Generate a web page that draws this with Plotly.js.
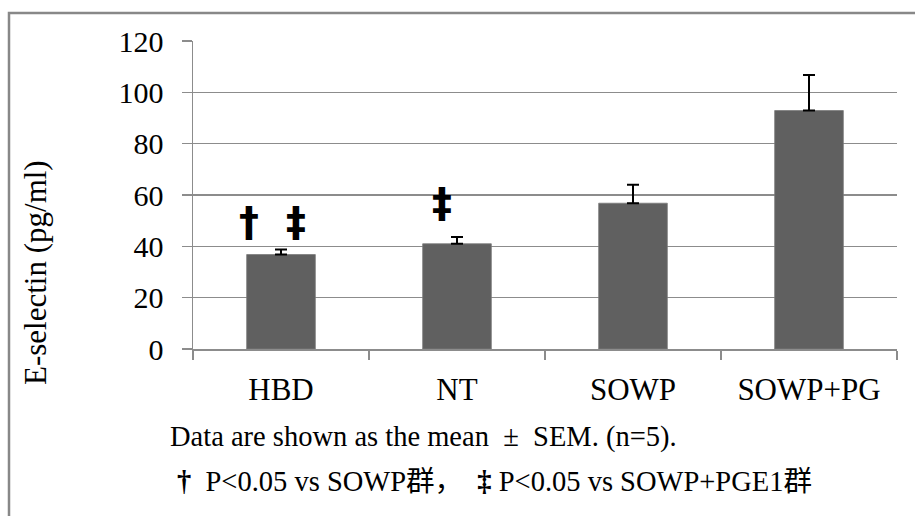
<!DOCTYPE html>
<html>
<head>
<meta charset="utf-8">
<script src="https://cdn.plot.ly/plotly-3.0.1.min.js"></script>
<style>html,body{margin:0;padding:0;background:#fff;}#chart{width:915px;height:516px;}</style>
</head>
<body>
<div id="chart"></div>
<script>
const categories = ["HBD", "NT", "SOWP", "SOWP+PG"];
const meanValues = [36.8, 41.0, 56.8, 92.9];
const semValues = [2.0, 2.6, 7.2, 13.9];
const yTickValues = [0, 20, 40, 60, 80, 100, 120];
const yTitle = "E-selectin (pg/ml)";
const noteLine1 = "Data are shown as the mean \u00a0\u00b1\u00a0 SEM. (n=5).";
const noteLine2 = "<b>\u2020</b>\u00a0 P&lt;0.05 vs SOWP群，\u00a0\u00a0<b>\u2021</b>\u00a0P&lt;0.05 vs SOWP+PGE1群";
const sigMarks = [
  {cat: "HBD", text: "\u2020", y: 49.5, shift: -32},
  {cat: "HBD", text: "\u2021", y: 49.5, shift: 15},
  {cat: "NT", text: "\u2021", y: 56.9, shift: -15}
];

const serif = "'Liberation Serif', 'Times New Roman', 'Noto Sans CJK JP', serif";
const sans = "'DejaVu Sans', 'Liberation Sans', sans-serif";
const grid = "#8c8c8c";

const trace = {
  type: "bar",
  x: categories,
  y: meanValues,
  marker: {color: "#606060", line: {color: "#7a7a7a", width: 0.8}},
  error_y: {type: "data", symmetric: false, array: semValues, arrayminus: semValues.map(() => 0),
            color: "#000", thickness: 2, width: 6},
  hoverinfo: "none"
};

const annotations = sigMarks.map(m => ({
  x: m.cat, y: m.y, xref: "x", yref: "y", text: "<b>" + m.text + "</b>",
  showarrow: false, xshift: m.shift, font: {family: sans, size: 40, color: "#000"}
}));
annotations.push({
  xref: "paper", yref: "paper", x: (35 - 193) / 704, y: (349 - 273) / 308,
  xanchor: "center", yanchor: "middle", textangle: -90, text: yTitle, showarrow: false,
  font: {family: serif, size: 31, color: "#000"}
});
annotations.push({
  xref: "paper", yref: "paper", x: (168 - 193) / 704, y: (349 - 437) / 308,
  xanchor: "left", yanchor: "middle", text: noteLine1, showarrow: false,
  font: {family: serif, size: 28.5, color: "#000"}
});
annotations.push({
  xref: "paper", yref: "paper", x: (175 - 193) / 704, y: (349 - 481) / 308,
  xanchor: "left", yanchor: "middle", text: noteLine2, showarrow: false,
  font: {family: serif, size: 28.5, color: "#000"}
});

const layout = {
  width: 915, height: 516,
  margin: {l: 193, r: 18, t: 41, b: 167},
  paper_bgcolor: "#fff", plot_bgcolor: "#fff",
  showlegend: false,
  bargap: 0.61,
  font: {family: serif, color: "#000"},
  xaxis: {
    type: "category", showgrid: false, showline: true, linecolor: grid, linewidth: 1.5,
    ticks: "outside", tickson: "boundaries", ticklen: 9, tickcolor: grid, tickwidth: 1.5,
    tickfont: {family: serif, size: 31, color: "#000"}, ticklabelstandoff: 12
  },
  yaxis: {
    range: [0, 120], tickvals: yTickValues, showgrid: true, gridcolor: grid, gridwidth: 1.5,
    showline: true, linecolor: grid, linewidth: 1.5, zeroline: false,
    ticks: "outside", ticklen: 10, tickcolor: grid, tickwidth: 1.5,
    tickfont: {family: serif, size: 30, color: "#000"}, ticklabelstandoff: 12
  },
  annotations: annotations,
  shapes: [{
    type: "rect", xref: "paper", yref: "paper",
    x0: (9 - 193) / 704, x1: (925 - 193) / 704,
    y0: (349 - 530) / 308, y1: (349 - 13) / 308,
    line: {color: "#888", width: 2.5}, fillcolor: "rgba(0,0,0,0)", layer: "below"
  }]
};

Plotly.newPlot("chart", [trace], layout, {staticPlot: true, displayModeBar: false});
</script>
</body>
</html>
